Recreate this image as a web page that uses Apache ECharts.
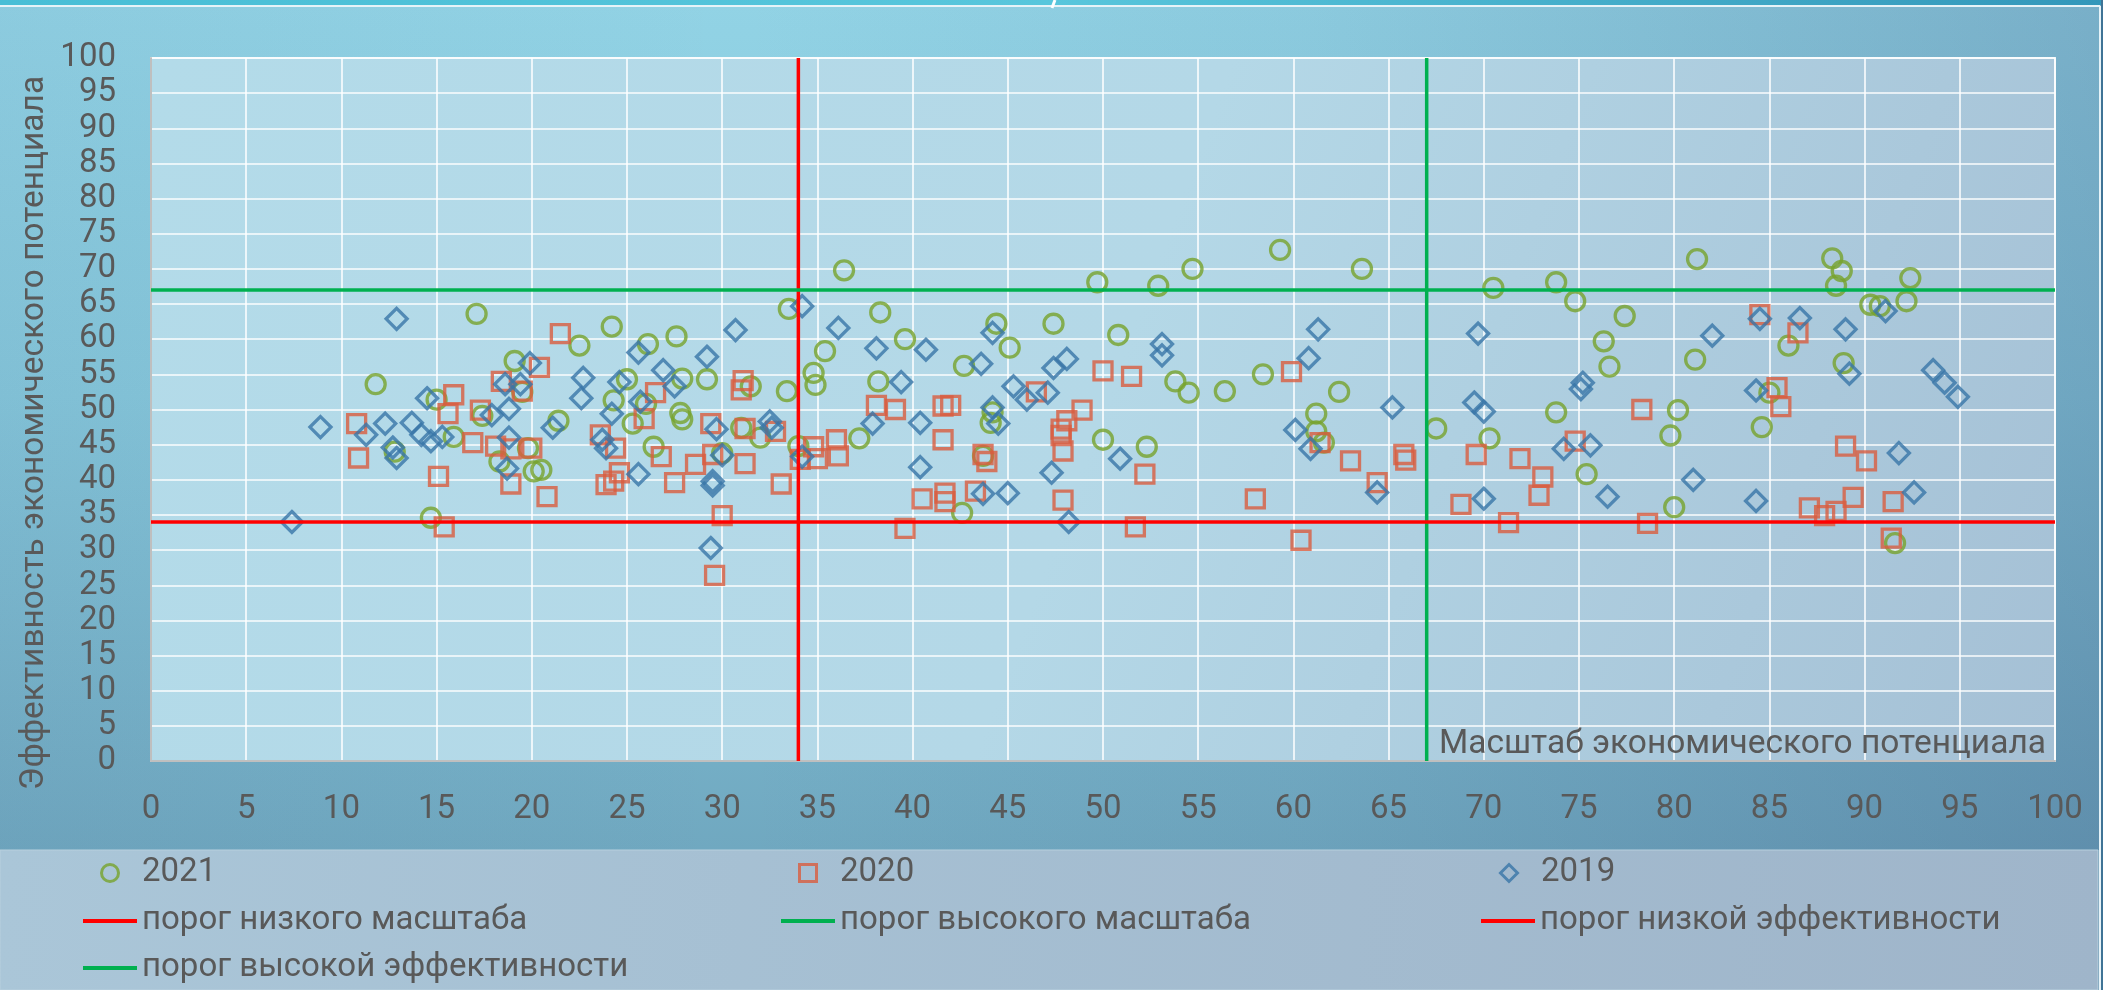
<!DOCTYPE html>
<html>
<head>
<meta charset="utf-8">
<script src="https://cdn.jsdelivr.net/npm/echarts@6/dist/echarts.min.js"></script>
<style>
html,body{margin:0;padding:0;width:2103px;height:990px;overflow:hidden;}
#c{width:2103px;height:990px;
  background:
    linear-gradient(to right, rgba(40,62,110,0.05) 0%, rgba(40,62,110,0) 35%, rgba(40,62,110,0.06) 62%, rgba(40,62,110,0.24) 100%),
    linear-gradient(to bottom, #92D3E5 0%, #85C6DA 40%, #70A8C0 86%, #6DA3BC 100%);
}
</style>
</head>
<body>
<div id="c"></div>
<script>
// ---- data ----
const seriesNames = ['2021', '2020', '2019'];
const lineNames = ['порог низкого масштаба', 'порог высокого масштаба', 'порог низкой эффективности', 'порог высокой эффективности'];
const scaleThresholds = [34, 67];       // x thresholds (low, high scale)
const effThresholds = [34, 67];         // y thresholds (low, high efficiency)
const axisRange = [0, 100];
const xTitle = 'Масштаб экономического потенциала';
const yTitle = 'Эффективность экономического потенциала';

const x2021 = [17.1,19.1,11.8,19.5,15.0,17.4,15.9,19.8,12.8,18.3,20.1,20.5,14.7,
  22.5,24.2,26.1,27.6,33.5,36.4,38.3,39.6,25.0,24.3,26.0,27.9,29.2,31.5,33.4,34.8,34.9,35.4,38.2,21.4,25.3,27.8,27.9,32.0,26.4,30.0,34.0,37.2,31.0,
  44.4,45.1,42.7,47.4,49.7,50.8,52.9,54.7,59.3,53.8,54.5,56.4,58.4,62.4,61.2,61.2,61.6,44.2,44.1,43.7,50.0,52.3,42.6,
  63.6,67.5,70.5,70.3,73.8,74.8,77.4,76.3,76.6,73.8,75.4,80.2,79.8,80.0,81.1,81.2,
  88.3,88.8,88.5,92.4,90.3,90.8,92.2,86.0,88.9,85.0,84.6,91.6];
const y2021 = [63.6,56.9,53.6,52.5,51.4,49.1,46.1,44.5,44.0,42.6,41.2,41.4,34.6,
  59.1,61.8,59.3,60.4,64.3,69.8,63.8,60.0,54.3,51.3,50.8,54.4,54.3,53.3,52.6,55.2,53.5,58.3,54.0,48.4,48.0,49.5,48.6,46.0,44.7,43.8,44.8,45.9,47.4,
  62.2,58.8,56.2,62.2,68.1,60.6,67.6,70.0,72.7,54.0,52.4,52.6,55.0,52.5,49.4,46.9,45.3,49.6,48.1,43.4,45.7,44.7,35.3,
  70.0,47.3,67.3,45.9,68.1,65.4,63.3,59.7,56.1,49.6,40.8,49.9,46.3,36.1,57.1,71.4,
  71.5,69.7,67.6,68.7,64.9,64.7,65.4,59.1,56.6,52.4,47.5,31.0];

const x2020 = [20.4,18.4,19.5,15.9,15.6,17.3,10.8,16.9,18.1,18.9,20.0,10.9,18.9,15.1,20.8,15.4,
  21.5,26.5,31.1,31.0,38.1,39.1,25.9,29.4,31.2,32.8,23.6,24.4,26.8,29.5,28.6,31.2,24.6,23.9,24.3,27.5,30.0,33.1,29.6,34.1,34.8,35.0,36.0,36.1,41.6,41.6,40.5,39.6,
  50.0,51.5,59.9,61.4,63.0,46.5,42.0,48.9,48.1,47.8,47.8,47.9,43.7,43.9,52.2,41.7,41.7,43.3,47.9,51.7,58.0,60.4,
  65.8,65.9,64.4,69.6,68.8,71.3,71.9,73.1,72.9,74.8,78.3,78.6,
  84.5,86.5,85.4,85.6,89.0,90.1,87.1,87.9,88.5,89.4,91.5,91.4];
const y2020 = [56.0,54.0,52.6,52.1,49.4,49.9,48.0,45.3,44.8,44.4,44.5,43.1,39.4,40.5,37.6,33.3,
  60.8,52.4,54.1,52.8,50.6,50.0,48.7,48.0,47.3,46.9,46.4,44.5,43.3,43.6,42.2,42.3,41.0,39.3,39.8,39.6,34.9,39.4,26.4,42.9,44.7,43.0,45.7,43.4,50.5,45.7,37.3,33.1,
  55.5,54.7,55.4,45.3,42.7,52.5,50.6,49.9,48.4,47.2,46.3,44.1,43.6,42.6,40.8,38.1,36.9,38.4,37.1,33.3,37.3,31.4,
  43.6,42.8,39.6,43.6,36.5,33.9,43.0,40.4,37.8,45.5,50.0,33.8,
  63.5,60.9,53.1,50.4,44.8,42.7,36.0,34.9,35.5,37.5,36.9,31.7];

const x2019 = [12.9,19.9,18.6,19.4,14.5,17.9,18.8,8.9,11.3,12.3,13.7,14.2,14.7,15.3,18.8,12.7,12.9,18.7,7.4,
  25.6,29.2,30.7,34.2,36.1,38.1,40.7,22.7,22.6,24.6,25.7,26.9,27.5,39.4,21.1,24.2,29.7,32.5,32.6,23.7,23.9,30.0,25.6,29.5,29.5,29.4,34.2,37.9,40.4,40.4,
  44.2,43.6,53.1,53.1,47.4,48.1,60.8,61.3,60.1,60.9,45.3,46.0,47.1,44.2,44.5,50.9,47.3,43.7,45.0,48.2,
  65.2,64.4,69.7,69.5,70.0,70.0,75.2,75.1,74.2,75.6,76.5,81.0,82.0,
  84.5,86.6,89.0,89.2,93.6,94.2,94.9,84.3,91.8,84.3,92.6,91.1];
const y2019 = [62.9,56.6,53.6,53.6,51.6,49.2,50.1,47.5,46.4,48.0,48.1,46.4,45.5,46.1,46.0,44.6,43.1,41.6,34.0,
  58.1,57.5,61.3,64.7,61.6,58.7,58.5,54.5,51.6,53.9,51.1,55.6,53.3,53.9,47.4,49.4,47.2,48.3,47.4,45.7,44.5,43.5,40.8,39.8,39.2,30.3,43.3,48.0,48.1,41.8,
  60.9,56.5,59.3,57.7,55.9,57.2,57.3,61.4,47.1,44.4,53.3,51.4,52.4,50.3,48.0,43.0,41.0,38.0,38.1,34.0,
  50.3,38.2,60.8,51.0,49.7,37.3,53.8,52.9,44.4,44.9,37.6,40.0,60.5,
  62.9,63.0,61.4,55.1,55.6,53.8,51.8,52.7,43.8,37.0,38.2,64.0];

// ---- build ----
const FONT = 'Roboto, "Noto Sans", sans-serif';
const TXT = '#595959';
const zip = (xs, ys) => xs.map((x, i) => [x, ys[i]]);

const markerStyles = [
  {symbol: 'circle', size: 19, color: '#77A22C', icon: 'circle'},
  {symbol: 'rect', size: 18, color: '#D95D3E', icon: 'path://M0,0L10,0L10,10L0,10Z'},
  {symbol: 'diamond', size: 21, color: '#3876A8', icon: 'path://M5,0L10,5L5,10L0,5Z'}
];
const pointData = [zip(x2021, y2021), zip(x2020, y2020), zip(x2019, y2019)];

const series = [];
seriesNames.forEach((n, i) => {
  const m = markerStyles[i];
  series.push({
    name: n, type: 'scatter', data: pointData[i],
    symbol: m.symbol, symbolSize: m.size,
    itemStyle: {color: 'rgba(0,0,0,0)', borderColor: m.color, borderWidth: 3.3},
    emphasis: {disabled: true}, z: 2 + i
  });
});
const lineColors = ['#FF0000', '#00B050', '#FF0000', '#00B050'];
const lineData = [
  [[scaleThresholds[0], axisRange[0]], [scaleThresholds[0], axisRange[1]]],
  [[scaleThresholds[1], axisRange[0]], [scaleThresholds[1], axisRange[1]]],
  [[axisRange[0], effThresholds[0]], [axisRange[1], effThresholds[0]]],
  [[axisRange[0], effThresholds[1]], [axisRange[1], effThresholds[1]]]
];
lineNames.forEach((n, i) => {
  series.push({
    name: n, type: 'line', data: lineData[i], symbol: 'none',
    lineStyle: {color: lineColors[i], width: 3.5}, itemStyle: {color: lineColors[i]},
    emphasis: {disabled: true}, z: 6
  });
});

const legendText = {color: TXT, fontSize: 33, fontFamily: FONT, lineHeight: 36};
// scatter legends: [seriesIndex, left, rowCenter]
const scatterSlots = [[0, 100, 873], [1, 798, 873], [2, 1499, 873]];
// line legends: [lineIndex, left, rowCenter]
const lineSlots = [[0, 83, 921], [1, 781, 921], [2, 1481, 921], [3, 83, 968]];
const legends = [];
scatterSlots.forEach(s => {
  legends.push({
    data: [{name: seriesNames[s[0]], icon: markerStyles[s[0]].icon}],
    left: s[1], top: s[2] - 18, padding: 0,
    itemWidth: 54, itemHeight: 17, selectedMode: false, symbolKeepAspect: true,
    itemStyle: {borderWidth: 3, color: 'rgba(0,0,0,0)', borderColor: markerStyles[s[0]].color},
    textStyle: legendText
  });
});
lineSlots.forEach(s => {
  legends.push({
    data: [{name: lineNames[s[0]], icon: 'rect'}],
    left: s[1], top: s[2] - 18, padding: 0,
    itemWidth: 54, itemHeight: 4, selectedMode: false, symbolKeepAspect: false,
    itemStyle: {borderWidth: 0, color: lineColors[s[0]]},
    textStyle: legendText
  });
});

const chart = echarts.init(document.getElementById('c'), null, {renderer: 'canvas'});
chart.setOption({
  animation: false,
  backgroundColor: 'transparent',
  textStyle: {fontFamily: FONT},
  grid: {
    left: 151, top: 58, width: 1904, height: 703, show: true,
    backgroundColor: new echarts.graphic.LinearGradient(0, 0, 1, 1, [
      {offset: 0, color: '#B3DBE9'},
      {offset: 0.5, color: '#B4D8E7'},
      {offset: 1, color: '#A5C0D5'}
    ]),
    borderColor: '#EEF3F6', borderWidth: 2
  },
  xAxis: {
    type: 'value', min: axisRange[0], max: axisRange[1], interval: 5,
    axisLine: {show: true, lineStyle: {color: '#BFBFBF', width: 2}},
    axisTick: {show: false},
    splitLine: {show: true, lineStyle: {color: 'rgba(255,255,255,0.95)', width: 1.6}},
    axisLabel: {color: TXT, fontSize: 33, fontFamily: FONT, margin: 32}
  },
  yAxis: {
    type: 'value', min: axisRange[0], max: axisRange[1], interval: 5,
    axisLine: {show: true, lineStyle: {color: '#BFBFBF', width: 2}},
    axisTick: {show: false},
    splitLine: {show: true, lineStyle: {color: 'rgba(255,255,255,0.95)', width: 1.6}},
    axisLabel: {color: TXT, fontSize: 33, fontFamily: FONT, margin: 35}
  },
  legend: legends,
  graphic: [
    {type: 'rect', z: 1, shape: {x: 0, y: 850, width: 2098, height: 140},
      style: {fill: new echarts.graphic.LinearGradient(0, 0, 1, 1, [
        {offset: 0, color: '#AAC6D8'}, {offset: 1, color: '#9FB5CA'}]), stroke: '#B8D0DE', lineWidth: 1}},
    {type: 'rect', z: 1, shape: {x: 0, y: 0, width: 2103, height: 5},
      style: {fill: new echarts.graphic.LinearGradient(0, 0, 1, 0, [
        {offset: 0, color: '#48BED6'}, {offset: 0.5, color: '#58C6DC'}, {offset: 1, color: '#3397BA'}])}},
    {type: 'line', z: 1, shape: {x1: 0, y1: 6, x2: 2100, y2: 6}, style: {stroke: '#E6F3F8', lineWidth: 2}},
    {type: 'line', z: 1, shape: {x1: 2100, y1: 6, x2: 2100, y2: 990}, style: {stroke: '#E6F3F8', lineWidth: 2}},
    {type: 'rect', z: 1, shape: {x: 2101, y: 0, width: 2, height: 990}, style: {fill: '#3F7496'}},
    {type: 'line', z: 1, shape: {x1: 1055, y1: 0, x2: 1052, y2: 8}, style: {stroke: '#FFFFFF', lineWidth: 3}},
    {type: 'text', z: 7, x: 35, y: 433, rotation: Math.PI / 2,
      style: {text: yTitle, fill: TXT, fontSize: 33.5, fontFamily: FONT, align: 'center', verticalAlign: 'middle'}},
    {type: 'text', z: 7, x: 2046, y: 745,
      style: {text: xTitle, fill: TXT, fontSize: 33.5, fontFamily: FONT, align: 'right', verticalAlign: 'middle'}}
  ],
  series: series
});
</script>
</body>
</html>
